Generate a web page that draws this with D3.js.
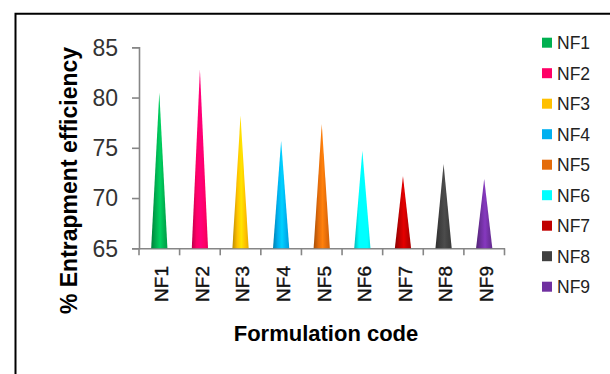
<!DOCTYPE html>
<html>
<head>
<meta charset="utf-8">
<script src="https://cdn.jsdelivr.net/npm/d3@7"></script>
<style>
    body{margin:0;background:#fff;}
    svg{display:block;font-family:"Liberation Sans",Arial,sans-serif;}
    .axis path,.axis line{stroke:#868686;stroke-width:1.6;}
</style>
</head>
<body>
<svg id="chart" width="610" height="374"></svg>
<script>
const categories = ['NF1','NF2','NF3','NF4','NF5','NF6','NF7','NF8','NF9'];
const values = [80.5, 82.8, 78.2, 75.7, 77.4, 74.7, 72.2, 73.4, 71.9];
const colors = ['#00b050','#ff0066','#ffc000','#00b0f0','#e46c0a','#00ffff','#c00000','#404040','#7030a0'];
const yTicks = [65, 70, 75, 80, 85];

let ConeChart = function ({
                              svg,
                              left=139,
                              right=504.5,
                              top=47.3,
                              bottom=248.3,
                              coneW=0.4
                          }) {
    let master = {};
    master.draw = ()=>{
        const data = categories.map((c,i)=>({name:c,value:values[i],color:colors[i]}));

        const x = d3.scaleBand().domain(categories).range([left,right]);
        const y = d3.scaleLinear().domain([65,85]).range([bottom,top]);

        // outer frame, only top and left edges are visible
        svg.append('path')
            .attr('d','M15.5,380 V13.7 H620')
            .attr('fill','none')
            .attr('stroke','#000')
            .attr('stroke-width',2);

        // shading of cones
        const defs = svg.append('defs');
        data.forEach((d,i)=>{
            const c = d3.color(d.color);
            const g = defs.append('linearGradient')
                .attr('id','cone'+i)
                .attr('x1','0').attr('x2','1').attr('y1','0').attr('y2','0');
            [[0,c.darker(0.9)],[0.3,c],[0.55,c.brighter(0.5)],[0.8,c],[1,c.darker(0.3)]]
                .forEach(([o,col])=>g.append('stop').attr('offset',o).attr('stop-color',col.formatHex()));
        });

        const yAxis = svg.append('g')
            .attr('class','axis')
            .attr('transform',`translate(${left},0)`)
            .call(d3.axisLeft(y).tickValues(yTicks).tickSize(7).tickPadding(14));
        yAxis.selectAll('text')
            .attr('font-size',23)
            .attr('dy','0.34em')
            .attr('fill','#333')
            .attr('font-family','"Liberation Sans",Arial,sans-serif');

        const xAxis = svg.append('g')
            .attr('class','axis')
            .attr('transform',`translate(0,${bottom})`)
            .call(d3.axisBottom(x).tickSize(0).tickFormat(''));
        xAxis.selectAll('line.sep')
            .data(d3.range(categories.length+1))
            .join('line')
            .attr('class','sep')
            .attr('x1',i=>left+i*x.step())
            .attr('x2',i=>left+i*x.step())
            .attr('y1',0)
            .attr('y2',7);
        xAxis.selectAll('text.lab')
            .data(categories)
            .join('text')
            .attr('class','lab')
            .attr('transform',d=>`translate(${x(d)+x.bandwidth()/2+2},${266-bottom}) rotate(-90)`)
            .attr('text-anchor','end')
            .attr('dy','0.36em')
            .attr('font-size',19)
            .attr('fill','#111')
            .attr('stroke','#111')
            .attr('stroke-width',0.4)
            .attr('font-family','"Liberation Sans",Arial,sans-serif')
            .text(d=>d);

        svg.append('g')
            .selectAll('path.cone')
            .data(data)
            .join('path')
            .attr('class','cone')
            .attr('fill',(d,i)=>`url(#cone${i})`)
            .attr('d',d=>{
                const cx = x(d.name)+x.bandwidth()/2;
                const hw = x.bandwidth()*coneW/2;
                return `M${cx-hw},${y(65)} L${cx},${y(d.value)} L${cx+hw},${y(65)} Z`;
            });

        svg.append('text')
            .attr('x',326)
            .attr('y',340.7)
            .attr('text-anchor','middle')
            .attr('font-size',22)
            .attr('font-weight','bold')
            .attr('fill','#000')
            .text('Formulation code');

        svg.append('text')
            .attr('transform','translate(77,180.5) rotate(-90)')
            .attr('text-anchor','middle')
            .attr('font-size',23)
            .attr('font-weight','bold')
            .attr('fill','#000')
            .text('% Entrapment efficiency');

        const legend = svg.append('g')
            .selectAll('g')
            .data(data)
            .join('g')
            .attr('transform',(d,i)=>`translate(542,${42.7+i*30.5})`);
        legend.append('rect')
            .attr('x',0).attr('y',-5)
            .attr('width',10).attr('height',10)
            .attr('fill',d=>d.color);
        legend.append('text')
            .attr('x',15)
            .attr('y',6.3)
            .attr('font-size',17.5)
            .attr('fill','#222')
            .text(d=>d.name);
    }
    return master;
}

ConeChart({svg:d3.select('#chart')}).draw();
</script>
</body>
</html>
